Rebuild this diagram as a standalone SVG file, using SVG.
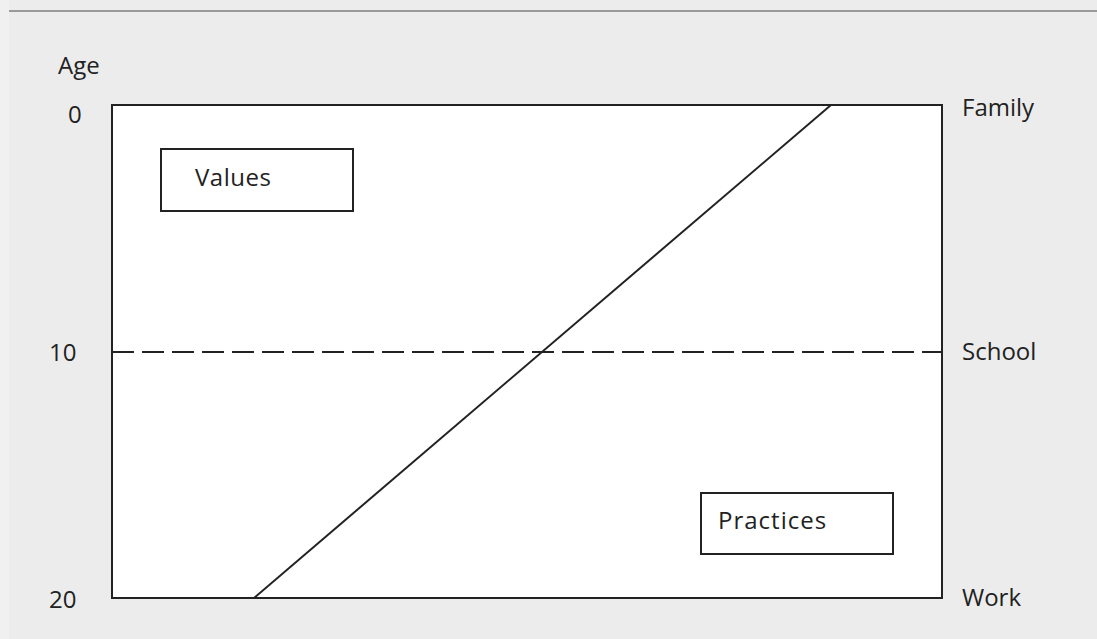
<svg xmlns="http://www.w3.org/2000/svg" width="1097" height="639" viewBox="0 0 1097 639">
  <style>
    text { font-family: "Open Sans", "Noto Sans", "Liberation Sans", sans-serif; font-size: 24px; fill: #222; }
    .box { fill: #fff; stroke: #222; stroke-width: 2; }
    .ln { stroke: #222; stroke-width: 2; fill: none; }
  </style>
  <rect x="0" y="0" width="1097" height="639" fill="#ececec"/>
  <rect x="0" y="0" width="9" height="639" fill="#f0f0f0"/>
  <line x1="9" y1="11" x2="1097" y2="11" stroke="#9a9a9a" stroke-width="2"/>
  <g id="frame">
    <rect class="box" x="112" y="105" width="830" height="493"/>
  </g>
  <g id="connectors">
    <line class="ln" x1="112" y1="352" x2="942" y2="352" stroke-dasharray="22 8"/>
    <line class="ln" x1="254" y1="598" x2="831" y2="105"/>
  </g>
  <g id="values">
    <rect class="box" x="161" y="149" width="192" height="62"/>
    <text x="195" y="186" letter-spacing="0.5">Values</text>
  </g>
  <g id="practices">
    <rect class="box" x="701" y="493" width="192" height="61"/>
    <text x="718" y="529" letter-spacing="1">Practices</text>
  </g>
  <g id="labels">
    <text x="58" y="74">Age</text>
    <text x="68" y="123">0</text>
    <text x="49" y="361">10</text>
    <text x="49" y="608">20</text>
    <text x="962" y="116">Family</text>
    <text x="962" y="360">School</text>
    <text x="962" y="606">Work</text>
  </g>
</svg>
